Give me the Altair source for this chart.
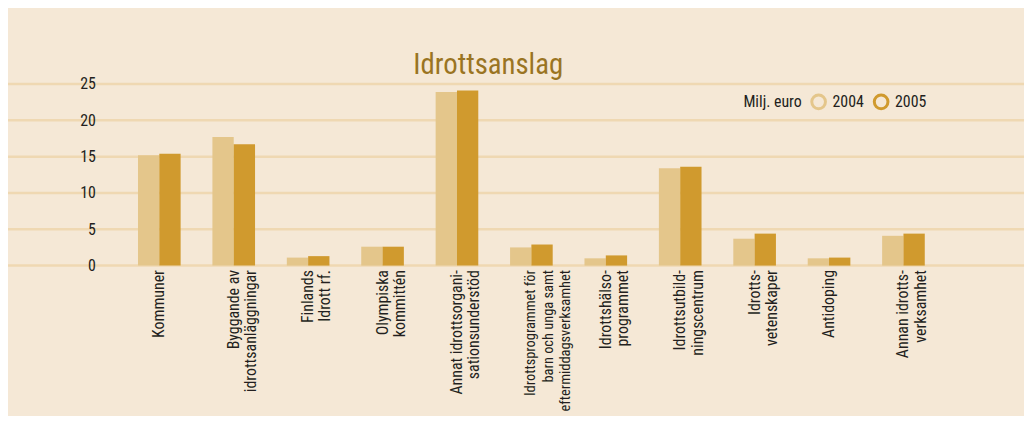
import altair as alt
import pandas as pd

categories = [
    "Kommuner",
    "Byggande av|idrottsanläggningar",
    "Finlands|Idrott rf.",
    "Olympiska|kommittén",
    "Annat idrottsorgani-|sationsunderstöd",
    "Idrottsprogrammet för|barn och unga samt|eftermiddagsverksamhet",
    "Idrottshälso-|programmet",
    "Idrottsutbild-|ningscentrum",
    "Idrotts-|vetenskaper",
    "Antidoping",
    "Annan idrotts-|verksamhet",
]
values_2004 = [15.2, 17.7, 1.1, 2.6, 23.9, 2.5, 1.0, 13.4, 3.7, 1.0, 4.1]
values_2005 = [15.4, 16.7, 1.3, 2.6, 24.1, 2.9, 1.4, 13.6, 4.4, 1.1, 4.4]
years = ["2004", "2005"]
y_ticks = [0, 5, 10, 15, 20, 25]
title_text = "Idrottsanslag"
legend_title = "Milj. euro"

rows = []
for c, a, b in zip(categories, values_2004, values_2005):
    rows.append({"kategori": c, "år": years[0], "värde": a})
    rows.append({"kategori": c, "år": years[1], "värde": b})
df = pd.DataFrame(rows)

FONT = "'Roboto Condensed', 'Noto Sans Condensed', 'DejaVu Sans Condensed', sans-serif"
C04, C05 = "#E4C68B", "#D09A2E"
BG = "#F5E8D6"
GRID = "#EFD8B2"
TXT = "#231F20"
color_scale = alt.Scale(domain=years, range=[C04, C05])
y_scale = alt.Scale(domain=[0, 25], nice=False)
y_axis = alt.Axis(
    title=None, values=y_ticks, grid=False, zindex=1,
    ticks=False, domain=False, labelPadding=-88, labelAlign="right",
    labelBaseline="middle", labelFontSize=16, labelColor=TXT, labelFont=FONT,
)

grid = alt.Chart(pd.DataFrame({"v": y_ticks})).mark_rule(color=GRID, strokeWidth=2.5).encode(
    y=alt.Y("v:Q", scale=y_scale, axis=y_axis), x=alt.value(0), x2=alt.value(1024)
)

bars = alt.Chart(df).mark_bar().encode(
    x=alt.X(
        "kategori:N",
        sort=categories,
        scale=alt.Scale(range=[115, 940], paddingInner=0.427, paddingOuter=0.2135),
        axis=alt.Axis(
            title=None, labelAngle=270, labelAlign="right", labelBaseline="middle",
            labelExpr="split(datum.label, '|')", labelLineHeight=17.5, labelPadding=4,
            ticks=False, domain=False,
            labelFontSize={"condition": {"test": "indexof(datum.value, 'efter') >= 0", "value": 14.5}, "value": 16},
            labelColor=TXT, labelFont=FONT, labelLimit=0,
        ),
    ),
    xOffset=alt.XOffset("år:N", sort=years, scale=alt.Scale(paddingInner=0, paddingOuter=0)),
    y=alt.Y("värde:Q", scale=y_scale, axis=y_axis),
    color=alt.Color("år:N", scale=color_scale, legend=None),
)

title = alt.Chart(pd.DataFrame({"t": [title_text]})).mark_text(
    font=FONT, fontSize=29, color="#9A7422", align="center", baseline="alphabetic"
).encode(text="t:N", x=alt.value(484), y=alt.value(-10))

legend_label = alt.Chart(pd.DataFrame({"t": [legend_title]})).mark_text(
    font=FONT, fontSize=16, color=TXT, align="right", baseline="middle"
).encode(text="t:N", x=alt.value(800), y=alt.value(18))

legend_layers = []
for yr, cx in zip(years, [817, 880]):
    d = pd.DataFrame({"år": [yr]})
    legend_layers.append(
        alt.Chart(d).mark_point(shape="circle", filled=False, size=190, strokeWidth=3, opacity=1).encode(
            x=alt.value(cx), y=alt.value(18), color=alt.Color("år:N", scale=color_scale, legend=None)
        )
    )
    legend_layers.append(
        alt.Chart(d).mark_text(font=FONT, fontSize=16, color=TXT, align="left", baseline="middle").encode(
            text="år:N", x=alt.value(cx + 14), y=alt.value(18)
        )
    )

chart = alt.layer(grid, bars, title, legend_label, *legend_layers).properties(
    width=1024,
    height=183,
    autosize=alt.AutoSizeParams(type="none"),
    padding={"left": 0, "top": 75, "right": 0, "bottom": 150},
    background=BG,
).configure_view(stroke=None)

chart.save("out.html", embed_options={"renderer": "svg", "actions": False})
